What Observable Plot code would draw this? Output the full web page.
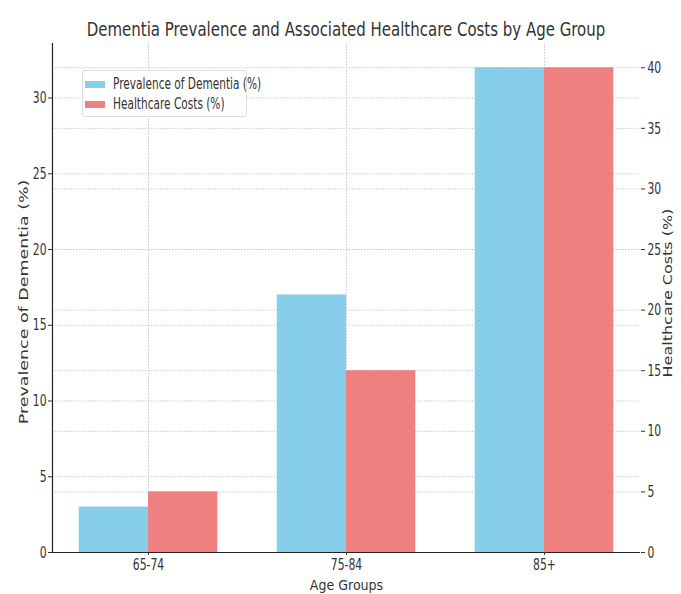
<!DOCTYPE html>
<html><head><meta charset="utf-8">
<script src="https://cdn.jsdelivr.net/npm/d3@7"></script>
<script src="https://cdn.jsdelivr.net/npm/@observablehq/plot@0.6"></script>
<style>
body{margin:0;background:#fff;font-family:"DejaVu Sans",sans-serif;}
#wrap{position:relative;width:681px;height:594px;overflow:hidden;}
#title{position:absolute;left:0;top:0;}
#chart{position:absolute;top:40px;left:0;}
#legend{position:absolute;left:82px;top:70px;width:165px;height:47px;border:1px solid #ddd;border-radius:3px;background:rgba(255,255,255,0.85);font-size:11px;color:#333;box-sizing:border-box;}
.li{position:absolute;left:2px;height:12px;display:flex;align-items:center;white-space:nowrap;}
.sw{width:20px;height:7px;margin-right:8px;flex:none;}
.lt{display:inline-block;transform:scale(0.96,1.4);transform-origin:left center;}
</style></head>
<body>
<div id="wrap">
<svg id="title" width="681" height="42"><text id="ttl" x="0" y="0" transform="translate(346,36)" text-anchor="middle" font-size="20" fill="#333" font-family="DejaVu Sans, sans-serif">Dementia Prevalence and Associated Healthcare Costs by Age Group</text></svg>
<div id="chart"></div>
<div id="legend">
<div class="li" style="top:7px"><span class="sw" style="background:#87CEEB"></span><span class="lt">Prevalence of Dementia (%)</span></div>
<div class="li" style="top:27px"><span class="sw" style="background:#F08080"></span><span class="lt">Healthcare Costs (%)</span></div>
</div>
</div>
<script>
const ageGroups = ["65-74", "75-84", "85+"];
const prevalence = [3, 17, 32];
const costs = [5, 15, 40];
const leftTicks = [0, 5, 10, 15, 20, 25, 30];
const rightTicks = [0, 5, 10, 15, 20, 25, 30, 35, 40];
const leftMax = 33.6, rightMax = 42;
const k = leftMax / rightMax;

const rowsP = ageGroups.map((g, i) => ({g, i, v: prevalence[i]}));
const rowsC = ageGroups.map((g, i) => ({g, i, v: costs[i]}));
const barW = 0.35;
const xDom = [-0.485, 2.485];
const gridStyle = {stroke: "#c8c8c8", strokeOpacity: 1, strokeDasharray: "1.5,1.5", strokeWidth: 1};

const chart = Plot.plot({
  width: 681, height: 554,
  marginLeft: 52, marginRight: 41, marginTop: 3, marginBottom: 42,
  style: {fontFamily: "'DejaVu Sans',sans-serif", fontSize: "12px", color: "#333", background: "transparent"},
  x: {type: "linear", domain: xDom},
  y: {domain: [0, leftMax]},
  marks: [
    Plot.gridY(leftTicks.slice(1), gridStyle),
    Plot.gridY(rightTicks.slice(1).map(v => v * k), gridStyle),
    Plot.gridX([0, 1, 2], gridStyle),
    Plot.rectY(rowsP, {x1: d => d.i - barW, x2: d => d.i, y: "v", fill: "#87CEEB"}),
    Plot.rectY(rowsC, {x1: d => d.i, x2: d => d.i + barW, y: d => d.v * k, fill: "#F08080"}),
    Plot.ruleX([xDom[0]], {stroke: "#222", strokeWidth: 1.2}),
    Plot.ruleY([0], {stroke: "#222", strokeWidth: 1.2}),
    Plot.axisY({anchor: "left", ticks: leftTicks, tickSize: 4, tickPadding: 2, label: null, fontSize: 12}),
    Plot.axisY({anchor: "right", ticks: rightTicks.map(v => v * k), tickFormat: d => String(Math.round(d / k)), tickSize: 4, tickPadding: 3, label: null, fontSize: 12}),
    Plot.axisX({ticks: [0, 1, 2], tickFormat: i => ageGroups[i], tickSize: 3, tickPadding: 3, label: null, fontSize: 12}),
    Plot.text(["Age Groups"], {frameAnchor: "bottom", lineAnchor: "middle", dy: 33, fontSize: 13}),
    Plot.text(["Prevalence of Dementia (%)"], {frameAnchor: "left", textAnchor: "middle", dx: -29, dy: 4, rotate: -90, fontSize: 13}),
    Plot.text(["Healthcare Costs (%)"], {frameAnchor: "right", textAnchor: "middle", dx: 27, dy: -5, rotate: -90, fontSize: 13})
  ]
});
document.getElementById("chart").appendChild(chart);

// the reference's glyphs are stretched vertically: long rotated labels, tall narrow horizontal text
function addScale(el, sx, sy) {
  el.setAttribute("transform", (el.getAttribute("transform") || "") + ` scale(${sx},${sy})`);
}
function fitLength(el, target) {
  const len = el.getComputedTextLength();
  if (len > 0) addScale(el, target / len, 1);
}
const stretch = {"Prevalence of Dementia (%)": 245, "Healthcare Costs (%)": 169};
d3.select(chart).selectAll("text").each(function() {
  const L = stretch[this.textContent];
  if (L) fitLength(this, L);
  else if (this.textContent === "Age Groups") addScale(this, 0.97, 1.15);
  else addScale(this, 0.9, 1.35);
});
fitLength(document.getElementById("ttl"), 519);
</script>
</body></html>
